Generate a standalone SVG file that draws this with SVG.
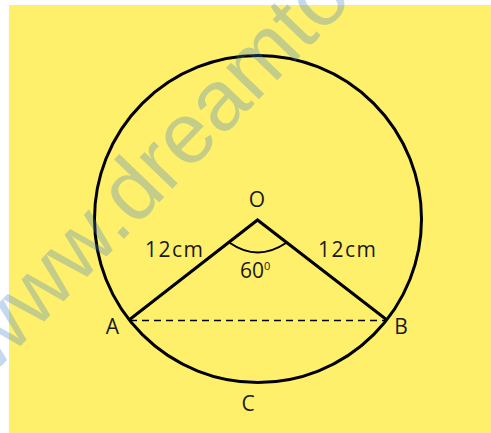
<svg xmlns="http://www.w3.org/2000/svg" width="491" height="433" viewBox="0 0 491 433">
<style>
.lbl{font-family:"Open Sans","Liberation Sans",sans-serif;font-size:21px;fill:#1a1a1a}
.ln{stroke:#000;fill:none;stroke-width:3}
</style>
<rect x="0" y="0" width="491" height="433" fill="#ffffff"/>
<rect x="9" y="5" width="482" height="428" fill="#FEF06A"/>
<g id="circle"><circle cx="258" cy="219" r="163.5" class="ln"/></g>
<g id="connectors">
<path d="M129,320 L257.5,220 L387,320" class="ln" stroke-linejoin="miter"/>
<line x1="130" y1="320.5" x2="386" y2="320.5" stroke="#000" stroke-width="1.6" stroke-dasharray="7 5"/>
<path d="M230,243 Q257.5,262 286,243" stroke="#000" stroke-width="2" fill="none"/>
</g>
<g id="node-O"><text class="lbl" x="257" y="207" text-anchor="middle">O</text></g>
<g id="node-A"><text class="lbl" x="112.5" y="334" text-anchor="middle">A</text></g>
<g id="node-B"><text class="lbl" x="401" y="334" text-anchor="middle">B</text></g>
<g id="node-C"><text class="lbl" x="248" y="411" text-anchor="middle">C</text></g>
<g id="labels">
<text class="lbl" x="145" y="257" letter-spacing="1.5">12cm</text>
<text class="lbl" x="318" y="257" letter-spacing="1.5">12cm</text>
<text class="lbl" x="240" y="278">60<tspan font-size="11" dy="-8">0</tspan></text>
</g>
<g id="watermark" opacity="0.3"><text transform="translate(127,230) rotate(-46)" x="-198" y="4" font-family="Liberation Sans, Arial, sans-serif" font-size="86" fill="#3F7FD0">www.dreamto</text></g>
</svg>
